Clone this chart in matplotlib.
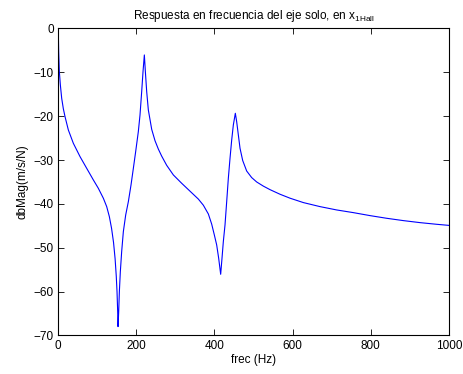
import matplotlib
matplotlib.use("Agg")
import matplotlib.pyplot as plt

# Frequency response (Hz, dB)
frec = [0.85, 1.7, 3.4, 6.0, 9.4, 13.6, 17.9, 26.4, 39.2, 56.3, 73.3, 90.4,
        103.1, 116.0, 124.5, 131.3, 137.0, 142.0, 146.0, 149.0, 150.9, 152.6,
        153.5, 155.2, 156.9, 159.4, 162.8, 167.1, 173.1, 179.9, 186.7, 192.7,
        198.6, 205.4, 209.7, 214.0, 217.4, 220.8, 223.4, 226.8, 231.0, 239.6,
        248.1, 256.6, 265.1, 277.9, 295.0, 316.3, 337.6, 358.9, 371.7, 384.5,
        393.0, 399.8, 405.8, 410.9, 416.0, 419.4, 422.8, 427.1, 431.4, 435.6,
        439.9, 444.2, 448.4, 453.5, 456.9, 461.2, 465.5, 472.3, 482.5, 495.3,
        508.1, 525.2, 542.2, 567.8, 593.4, 627.5, 670.1, 712.7, 755.3, 797.9,
        840.6, 883.2, 925.8, 968.5, 1000]
dbmag = [-1.10, -5.28, -9.84, -12.88, -15.92, -18.30, -20.10, -23.14, -26.18,
         -29.22, -31.88, -34.54, -36.44, -38.72, -40.62, -42.90, -45.60, -48.80,
         -52.50, -56.50, -60.00, -64.56, -67.98, -64.56, -60.00, -55.44, -50.88,
         -46.32, -42.52, -39.48, -35.68, -31.88, -28.08, -23.52, -19.72, -14.40,
         -9.84, -6.04, -9.84, -14.40, -18.58, -23.00, -25.60, -27.50, -29.10,
         -31.20, -33.40, -35.30, -37.10, -38.90, -40.30, -42.30, -44.60, -47.08,
         -49.36, -52.40, -56.05, -52.40, -48.60, -44.80, -39.48, -34.16, -29.60,
         -25.42, -22.00, -19.34, -21.24, -24.28, -27.32, -30.10, -32.50, -34.00,
         -35.00, -35.95, -36.75, -37.80, -38.70, -39.70, -40.62, -41.38, -41.99,
         -42.67, -43.28, -43.81, -44.27, -44.65, -44.90]

plt.rcParams['font.family'] = ['Liberation Sans', 'DejaVu Sans']
plt.rcParams['mathtext.default'] = 'regular'
plt.rcParams['font.size'] = 8.5

fig = plt.figure(figsize=(4.63, 3.74), dpi=100)
ax = fig.add_axes([0.1253, 0.103, 0.8445, 0.8209])
ax.plot(frec, dbmag, color='#0000ff', linewidth=0.8)

ax.set_xlim(0, 1000)
ax.set_ylim(-70, 0)
ax.set_xticks(range(0, 1001, 200))
ax.set_yticks(range(-70, 1, 10))
ax.tick_params(direction='in', top=True, right=True, length=4, width=0.6, pad=3)
for s in ax.spines.values():
    s.set_linewidth(0.8)

ax.set_xlabel('frec (Hz)', labelpad=2)
ax.set_ylabel('dbMag(m/s/N)', labelpad=4)
ax.set_title('Respuesta en frecuencia del eje solo, en x$_{1Hall}$', fontsize=8.5, pad=7)

fig.savefig('out.png', dpi=100)
